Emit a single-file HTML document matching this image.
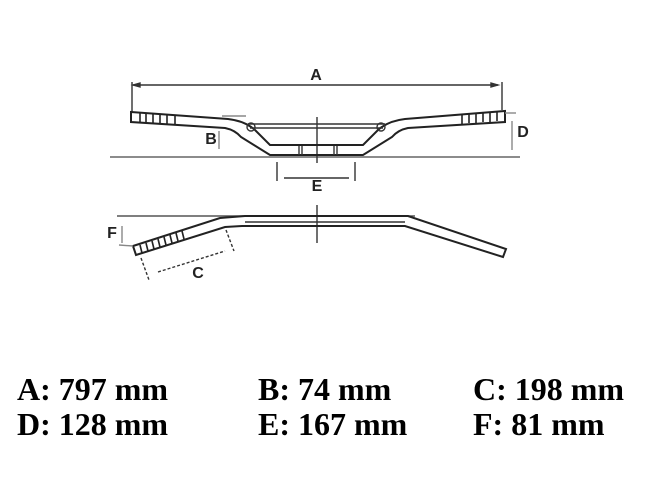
<!DOCTYPE html>
<html><head><style>
html,body{margin:0;padding:0;background:#fff;}
body{width:665px;height:500px;position:relative;overflow:hidden;}
.t{position:absolute;font-family:"Liberation Serif",serif;font-weight:bold;font-size:32px;color:#000;line-height:1;white-space:nowrap;}
</style></head><body>
<svg width="665" height="500" style="position:absolute;left:0;top:0" xmlns="http://www.w3.org/2000/svg">
<g fill="none" stroke="#333" stroke-width="1.4">
<line x1="133" y1="85" x2="498" y2="85"/>
<polygon points="133,85 140,83 140,87" fill="#333"/>
<polygon points="498,85 491,83 491,87" fill="#333"/>
<line x1="132" y1="82" x2="132" y2="112"/>
<line x1="502" y1="82" x2="502" y2="110"/>
<line x1="110" y1="157" x2="520" y2="157" stroke="#666"/>
<line x1="317" y1="117" x2="317" y2="163"/>
<path d="M131,112 L228,119 Q245,121 255,130 L270,145 L363,145 L378,130 Q388,121 405,119 L505,111 L505,122 L408,128 Q398,130 392,137 L363,155 L270,155 L241,137 Q235,130 225,128 L131,122 Z" stroke-width="2" stroke="#222"/>
<line x1="248" y1="124" x2="385" y2="124"/>
<line x1="250" y1="128" x2="383" y2="128"/>
<circle cx="251" cy="127" r="4"/><circle cx="381" cy="127" r="4"/>
<g stroke-width="1.6" stroke="#222">
<line x1="140" y1="113" x2="140" y2="122"/><line x1="146" y1="113" x2="146" y2="123"/><line x1="153" y1="113" x2="153" y2="123"/><line x1="160" y1="114" x2="160" y2="124"/><line x1="167" y1="114" x2="167" y2="124"/><line x1="175" y1="115" x2="175" y2="124"/>
<line x1="462" y1="114" x2="462" y2="124"/><line x1="469" y1="113" x2="469" y2="123"/><line x1="476" y1="113" x2="476" y2="123"/><line x1="483" y1="112" x2="483" y2="122"/><line x1="490" y1="112" x2="490" y2="122"/><line x1="497" y1="111" x2="497" y2="121"/>
</g>
<line x1="299" y1="146" x2="299" y2="155"/><line x1="302" y1="146" x2="302" y2="155"/>
<line x1="334" y1="146" x2="334" y2="155"/><line x1="337" y1="146" x2="337" y2="155"/>
<line x1="222" y1="116" x2="246" y2="116" stroke="#888"/>
<line x1="219" y1="131" x2="219" y2="149" stroke="#888"/>
<line x1="512" y1="121" x2="512" y2="150" stroke="#888"/>
<line x1="505" y1="113" x2="516" y2="113" stroke="#888"/>
<line x1="277" y1="162" x2="277" y2="181"/><line x1="355" y1="162" x2="355" y2="181"/>
<line x1="284" y1="178" x2="349" y2="178"/>
<line x1="117" y1="216" x2="415" y2="216" stroke="#555"/>
<line x1="317" y1="205" x2="317" y2="243"/>
<path d="M133,246 L220,218 L245,216 L408,216 L506,249 L503,257 L405,226 L242,226 L225,227 L136,255 Z" stroke-width="2" stroke="#222"/>
<line x1="245" y1="222" x2="405" y2="222"/>
<g stroke-width="1.6" stroke="#222">
<line x1="140" y1="245" x2="142" y2="253"/><line x1="146" y1="243" x2="148" y2="251"/><line x1="152" y1="241" x2="154" y2="249"/><line x1="158" y1="239" x2="160" y2="247"/><line x1="164" y1="237" x2="166" y2="245"/><line x1="170" y1="235" x2="172" y2="243"/><line x1="176" y1="233" x2="178" y2="241"/><line x1="182" y1="231" x2="184" y2="239"/>
</g>
<line x1="122" y1="226" x2="122" y2="243" stroke="#888"/>
<line x1="119" y1="245" x2="133" y2="246" stroke="#888"/>
<line x1="141" y1="258" x2="149" y2="280" stroke-dasharray="3,2"/>
<line x1="226" y1="230" x2="234" y2="251" stroke-dasharray="3,2"/>
<line x1="158" y1="272" x2="225" y2="251" stroke-dasharray="3,2"/>
</g>
<g font-family="Liberation Sans,sans-serif" font-weight="bold" font-size="16" fill="#222" text-anchor="middle">
<text x="316" y="80">A</text>
<text x="211" y="144">B</text>
<text x="523" y="137">D</text>
<text x="317" y="191">E</text>
<text x="112" y="238">F</text>
<text x="198" y="278">C</text>
</g>
</svg>
<div class="t" style="left:17px;top:373px">A: 797 mm</div>
<div class="t" style="left:258px;top:373px">B: 74 mm</div>
<div class="t" style="left:473px;top:373px">C: 198 mm</div>
<div class="t" style="left:17px;top:408px">D: 128 mm</div>
<div class="t" style="left:258px;top:408px">E: 167 mm</div>
<div class="t" style="left:473px;top:408px">F: 81 mm</div>
</body></html>
